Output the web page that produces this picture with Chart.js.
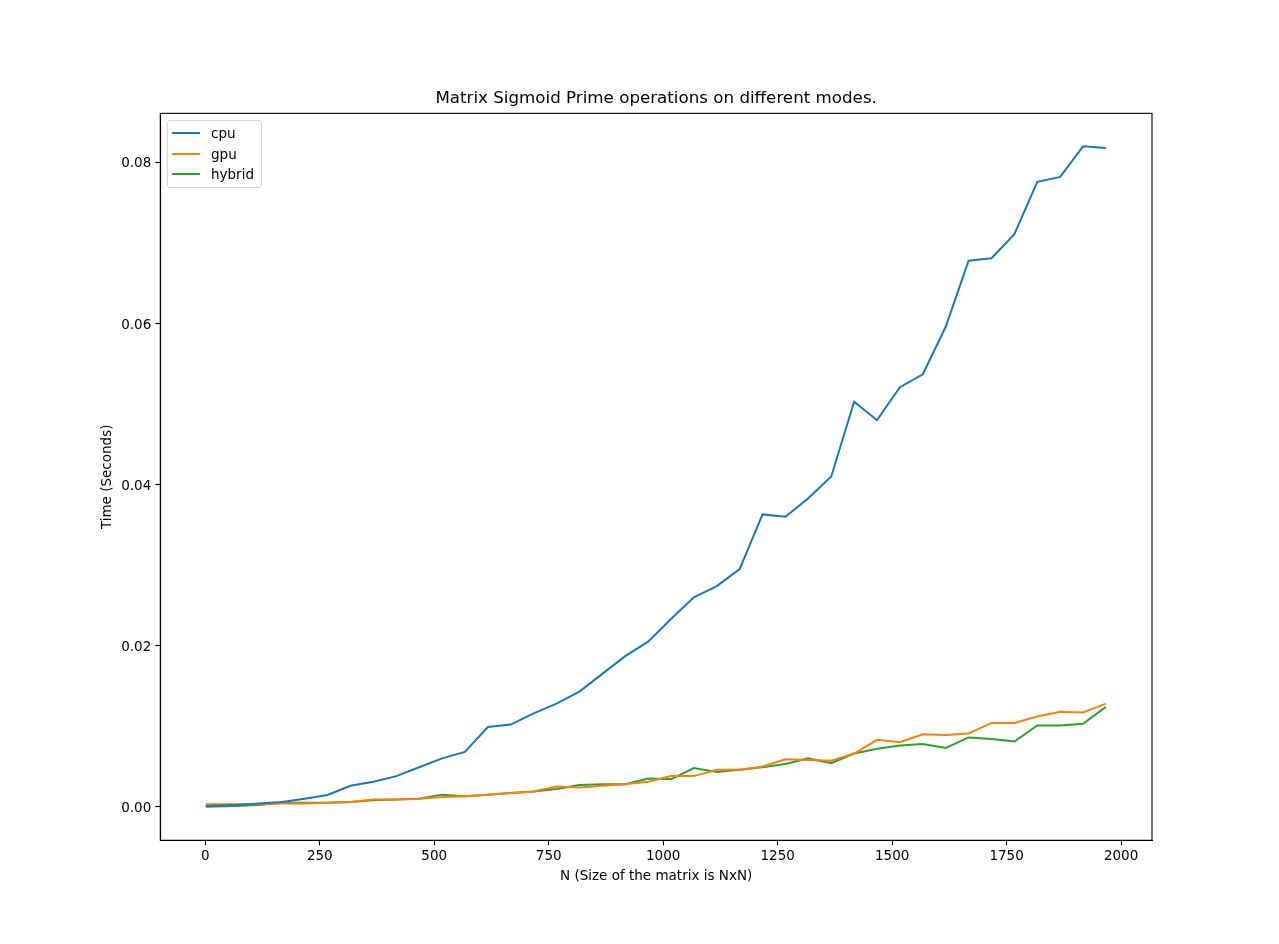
<!DOCTYPE html>
<html>
<head>
<meta charset="utf-8">
<script src="https://cdn.jsdelivr.net/npm/chart.js@4.4.1/dist/chart.umd.min.js"></script>
<style>
    html, body { margin: 0; padding: 0; background: #fff; }
    #wrap { position: relative; width: 1279px; height: 944px; }
    #legend {
        position: absolute; left: 167px; top: 120px; width: 93px; height: 66px;
        border: 1px solid #d4d4d4; border-radius: 3px; background: rgba(255,255,255,0.8);
        font-family: "DejaVu Sans", sans-serif; font-size: 13.5px; color: #000;
    }
    .row { position: absolute; left: 0; height: 20px; line-height: 20px; }
    .row span.sw { position: absolute; left: 4px; top: 9px; width: 28px; height: 2px; }
    .row span.lb { position: absolute; left: 43px; top: 0; white-space: nowrap; }
</style>
</head>
<body>
<div id="wrap">
    <canvas id="chart" width="1279" height="944"></canvas>
    <div id="legend"></div>
</div>
<script>
// matrix sizes (N)
const sizes = [1, 67, 117, 167, 217, 267, 317, 367, 417, 467,
    517, 567, 617, 667, 717, 767, 817, 867, 917, 967,
    1017, 1067, 1117, 1167, 1217, 1267, 1317, 1367, 1417, 1467,
    1517, 1567, 1617, 1667, 1717, 1767, 1817, 1867, 1917, 1967];

// timings in seconds
const cpuTimes = [0.0001, 0.0002, 0.0004, 0.0006, 0.0010, 0.00145, 0.0026, 0.0031, 0.0038, 0.0049,
    0.0060, 0.0068, 0.0099, 0.0102, 0.0116, 0.0128, 0.0143, 0.0165, 0.0187, 0.0205,
    0.0233, 0.0260, 0.0274, 0.0295, 0.0363, 0.0360, 0.0383, 0.0410, 0.0503, 0.0480,
    0.0521, 0.0537, 0.0596, 0.0678, 0.0681, 0.0711, 0.0776, 0.0782, 0.0820, 0.0818];

const gpuTimes = [0.0003, 0.0003, 0.0003, 0.0004, 0.0004, 0.0005, 0.0006, 0.0009, 0.0009, 0.0010,
    0.0012, 0.0013, 0.0015, 0.0017, 0.0019, 0.0025, 0.0024, 0.0026, 0.0028, 0.0031,
    0.0038, 0.0038, 0.0046, 0.0046, 0.0050, 0.0059, 0.0058, 0.0057, 0.0066, 0.0083,
    0.0080, 0.0090, 0.0089, 0.0091, 0.0104, 0.0104, 0.0112, 0.0118, 0.0117, 0.0128];

const hybridTimes = [0.0000, 0.0001, 0.0002, 0.0005, 0.0005, 0.0005, 0.0006, 0.0008, 0.0009, 0.0010,
    0.0015, 0.0013, 0.0015, 0.0017, 0.0019, 0.0022, 0.0027, 0.0028, 0.0028, 0.0035,
    0.0034, 0.0048, 0.0043, 0.0046, 0.0049, 0.0053, 0.0060, 0.0054, 0.0066, 0.0072,
    0.0076, 0.0078, 0.0073, 0.0086, 0.0084, 0.0081, 0.0101, 0.0101, 0.0103, 0.0124];

const xTicks = [0, 250, 500, 750, 1000, 1250, 1500, 1750, 2000];
const yTicks = [0, 0.02, 0.04, 0.06, 0.08];

const series = [
    { label: 'cpu', values: cpuTimes, color: '#1f77b4' },
    { label: 'gpu', values: gpuTimes, color: '#ff7f0e' },
    { label: 'hybrid', values: hybridTimes, color: '#2ca02c' }
];

Chart.defaults.color = '#000';
Chart.defaults.font.family = '"DejaVu Sans", sans-serif';

// draw the four spines like matplotlib
const frame = {
    id: 'frame',
    afterDraw(chart) {
        const a = chart.chartArea;
        const ctx = chart.ctx;
        ctx.save();
        ctx.strokeStyle = '#000';
        ctx.lineWidth = 1.1;
        ctx.strokeRect(a.left, a.top, a.right - a.left, a.bottom - a.top);
        ctx.restore();
    }
};

const ctx = document.getElementById('chart').getContext('2d');
new Chart(ctx, {
    type: 'line',
    data: {
        datasets: series.map(s => ({
            label: s.label,
            data: sizes.map((n, i) => ({ x: n, y: s.values[i] })),
            borderColor: s.color,
            backgroundColor: s.color,
            borderWidth: 2,
            pointRadius: 0,
            tension: 0,
            fill: false
        }))
    },
    options: {
        responsive: false,
        animation: false,
        devicePixelRatio: 1,
        layout: {
            padding: { top: 89, left: 99.6, right: 127, bottom: 59.7 }
        },
        plugins: {
            legend: { display: false },
            tooltip: { enabled: false },
            title: {
                display: true,
                fullSize: false,
                text: 'Matrix Sigmoid Prime operations on different modes.',
                font: { size: 16.7, weight: 'normal', lineHeight: 1.2 },
                padding: { top: 0, bottom: 4.3 }
            }
        },
        scales: {
            x: {
                type: 'linear',
                min: -98.3,
                max: 2067.5,
                afterBuildTicks: scale => { scale.ticks = xTicks.map(v => ({ value: v })); },
                afterFit: scale => { scale.height = 44; },
                grid: { drawOnChartArea: false, tickLength: 5, color: '#000', tickWidth: 1.1 },
                border: { display: true, color: '#000', width: 1.1 },
                ticks: {
                    padding: 3,
                    maxRotation: 0,
                    font: { size: 13.5 },
                    callback: v => String(v)
                },
                title: {
                    display: true,
                    text: 'N (Size of the matrix is NxN)',
                    font: { size: 13.5 },
                    padding: 0
                }
            },
            y: {
                type: 'linear',
                min: -0.00417,
                max: 0.0861,
                afterBuildTicks: scale => { scale.ticks = yTicks.map(v => ({ value: v })); },
                afterFit: scale => { scale.width = 60.7; },
                grid: { drawOnChartArea: false, tickLength: 5, color: '#000', tickWidth: 1.1 },
                border: { display: true, color: '#000', width: 1.1 },
                ticks: {
                    padding: 4,
                    labelOffset: 1.5,
                    font: { size: 13.5 },
                    callback: v => v.toFixed(2)
                },
                title: {
                    display: true,
                    text: 'Time (Seconds)',
                    font: { size: 13.5 },
                    padding: 0
                }
            }
        }
    },
    plugins: [frame]
});

// legend box inside the axes, upper left
const legend = document.getElementById('legend');
series.forEach((s, i) => {
    const row = document.createElement('div');
    row.className = 'row';
    row.style.top = (2 + i * 20.5) + 'px';
    row.style.width = '100%';
    row.innerHTML = `<span class="sw" style="background:${s.color}"></span><span class="lb">${s.label}</span>`;
    legend.appendChild(row);
});
</script>
</body>
</html>
